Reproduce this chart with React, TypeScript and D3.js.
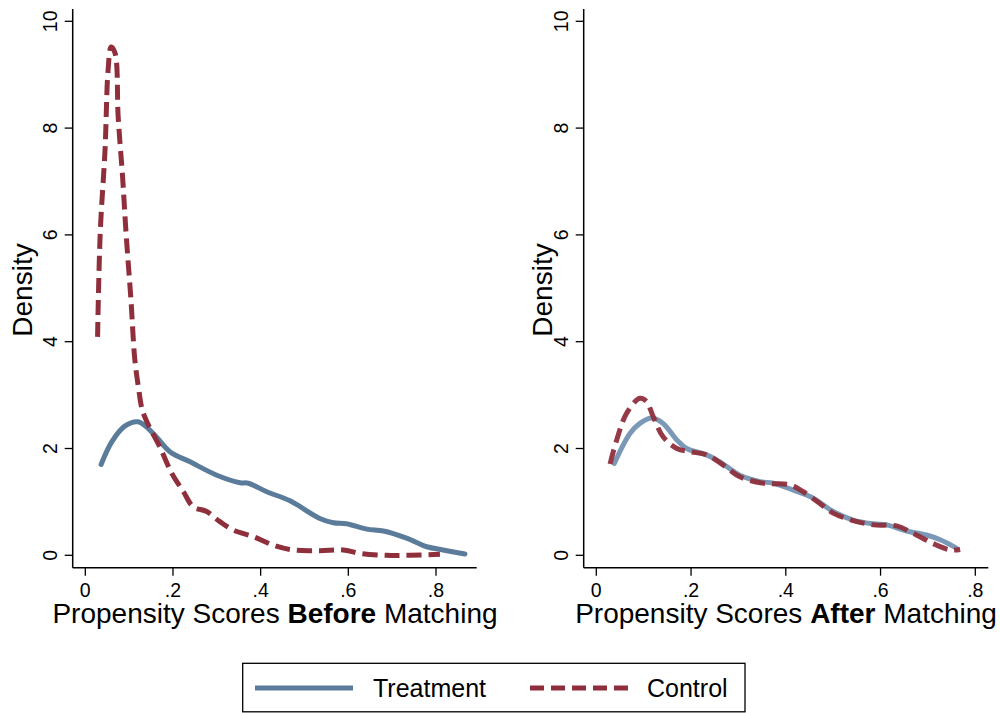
import React from "react";
import * as d3 from "d3";

// ---- data ----
const yTicks = [0, 2, 4, 6, 8, 10];
const xTicks = [0, 0.2, 0.4, 0.6, 0.8];
const xTickLabels = ["0", ".2", ".4", ".6", ".8"];

const beforeTreatX = [0.036, 0.06, 0.09, 0.121, 0.155, 0.193, 0.239, 0.3, 0.353, 0.372, 0.414, 0.467, 0.535, 0.566, 0.596, 0.642, 0.68, 0.733, 0.779, 0.816, 0.866];
const beforeTreatY = [1.7, 2.12, 2.42, 2.5, 2.28, 1.94, 1.75, 1.5, 1.36, 1.35, 1.19, 1.02, 0.69, 0.61, 0.59, 0.49, 0.455, 0.32, 0.16, 0.1, 0.025];

const beforeCtrlX = [0.028, 0.034, 0.045, 0.052, 0.059, 0.068, 0.075, 0.085, 0.093, 0.104, 0.113, 0.121, 0.13, 0.144, 0.17, 0.197, 0.224, 0.246, 0.277, 0.307, 0.338, 0.383, 0.429, 0.474, 0.535, 0.588, 0.626, 0.687, 0.74, 0.809];
const beforeCtrlY = [4.09, 6.03, 7.59, 9.09, 9.52, 9.4, 8.21, 7.09, 6.03, 4.8, 3.66, 3.16, 2.72, 2.44, 2.03, 1.54, 1.19, 0.91, 0.82, 0.63, 0.47, 0.35, 0.19, 0.1, 0.087, 0.1, 0.037, 0.0, 0.0, 0.02];

const afterTreatX = [0.038, 0.071, 0.092, 0.117, 0.141, 0.17, 0.191, 0.233, 0.261, 0.303, 0.346, 0.374, 0.416, 0.458, 0.5, 0.542, 0.585, 0.613, 0.655, 0.697, 0.726, 0.761];
const afterTreatY = [1.72, 2.28, 2.47, 2.57, 2.47, 2.16, 2.0, 1.88, 1.75, 1.5, 1.38, 1.35, 1.22, 1.07, 0.82, 0.66, 0.59, 0.57, 0.455, 0.38, 0.29, 0.13];

const afterCtrlX = [0.029, 0.043, 0.064, 0.092, 0.106, 0.12, 0.141, 0.17, 0.198, 0.233, 0.268, 0.303, 0.346, 0.374, 0.409, 0.437, 0.472, 0.5, 0.542, 0.585, 0.634, 0.669, 0.711, 0.747, 0.768];
const afterCtrlY = [1.71, 2.16, 2.66, 2.94, 2.88, 2.6, 2.22, 2.0, 1.94, 1.88, 1.69, 1.47, 1.36, 1.34, 1.32, 1.19, 0.97, 0.79, 0.65, 0.57, 0.55, 0.41, 0.22, 0.1, 0.11];

const legendLabels = ["Treatment", "Control"];

const TREAT = "#5b7b9b";
const CTRL = "#8f2f3c";
const FONT = "'Liberation Sans', Arial, Helvetica, sans-serif";

type Pt = [number, number];
const zip = (xs: number[], ys: number[]): Pt[] => xs.map((x, i) => [x, ys[i]]);

function Panel(props: {
  axisX: number; axisRight: number; x0: number; x08: number;
  tickLabelX: number; titleX: number; densityX: number;
  boldWord: string; treat: Pt[]; ctrl: Pt[]; treatColor: string; opacity: number;
}) {
  const { axisX, axisRight, x0, x08, tickLabelX, titleX, densityX, boldWord, treat, ctrl, treatColor, opacity } = props;
  const x = d3.scaleLinear().domain([0, 0.8]).range([x0, x08]);
  const y = d3.scaleLinear().domain([0, 10]).range([555.3, 21.3]);
  const axisY = 567.7;
  const line = d3.line<Pt>().x(d => x(d[0])).y(d => y(d[1])).curve(d3.curveCatmullRom.alpha(0.5));
  return (
    <g>
      <path d={line(treat) || ""} fill="none" stroke={treatColor} strokeWidth={5} strokeLinejoin="round" strokeLinecap="round" opacity={opacity} />
      <path d={line(ctrl) || ""} fill="none" stroke={CTRL} strokeWidth={5} strokeDasharray="15 7" opacity={opacity} />
      {/* axes */}
      <line x1={axisX} x2={axisX} y1={9} y2={axisY} stroke="#000" strokeWidth={1.5} />
      <line x1={axisX} x2={axisRight} y1={axisY} y2={axisY} stroke="#000" strokeWidth={1.5} />
      {yTicks.map(t => (
        <g key={"y" + t}>
          <line x1={axisX - 8} x2={axisX} y1={y(t)} y2={y(t)} stroke="#000" strokeWidth={1.3} />
          <text transform={`translate(${tickLabelX},${y(t)}) rotate(-90)`} textAnchor="middle" fontSize={19.5} fontFamily={FONT}>{t}</text>
        </g>
      ))}
      {xTicks.map((t, i) => (
        <g key={"x" + t}>
          <line x1={x(t)} x2={x(t)} y1={axisY} y2={axisY + 8} stroke="#000" strokeWidth={1.3} />
          <text x={x(t)} y={596.7} textAnchor="middle" fontSize={19.5} fontFamily={FONT}>{xTickLabels[i]}</text>
        </g>
      ))}
      <text transform={`translate(${densityX},290) rotate(-90)`} textAnchor="middle" fontSize={28} fontFamily={FONT}>Density</text>
      <text x={titleX} y={623.3} textAnchor="middle" fontSize={28} fontFamily={FONT}>
        Propensity Scores <tspan fontWeight="bold">{boldWord}</tspan> Matching
      </text>
    </g>
  );
}

export default function App() {
  return (
    <svg width={1000} height={713} style={{ position: "absolute", left: 0, top: 0, background: "#fff" }}>
      <rect x={0} y={0} width={1000} height={713} fill="#fff" />
      <Panel axisX={72.7} axisRight={476.7} x0={85.3} x08={436} tickLabelX={57} titleX={275} densityX={31.5}
        boldWord="Before" treat={zip(beforeTreatX, beforeTreatY)} ctrl={zip(beforeCtrlX, beforeCtrlY)} treatColor={TREAT} opacity={1} />
      <Panel axisX={583.7} axisRight={988.3} x0={596.3} x08={975.3} tickLabelX={568} titleX={786} densityX={551.5}
        boldWord="After" treat={zip(afterTreatX, afterTreatY)} ctrl={zip(afterCtrlX, afterCtrlY)} treatColor="#7494b2" opacity={0.95} />
      {/* legend */}
      <rect x={242.7} y={663.3} width={502.3} height={48.5} fill="#fff" stroke="#000" strokeWidth={1.3} />
      <line x1={255} x2={353} y1={688} y2={688} stroke={TREAT} strokeWidth={5} />
      <text x={373} y={697} fontSize={25} fontFamily={FONT}>{legendLabels[0]}</text>
      <line x1={530} x2={628} y1={688} y2={688} stroke={CTRL} strokeWidth={5} strokeDasharray="14 7" />
      <text x={647} y={697} fontSize={25} fontFamily={FONT}>{legendLabels[1]}</text>
    </svg>
  );
}
